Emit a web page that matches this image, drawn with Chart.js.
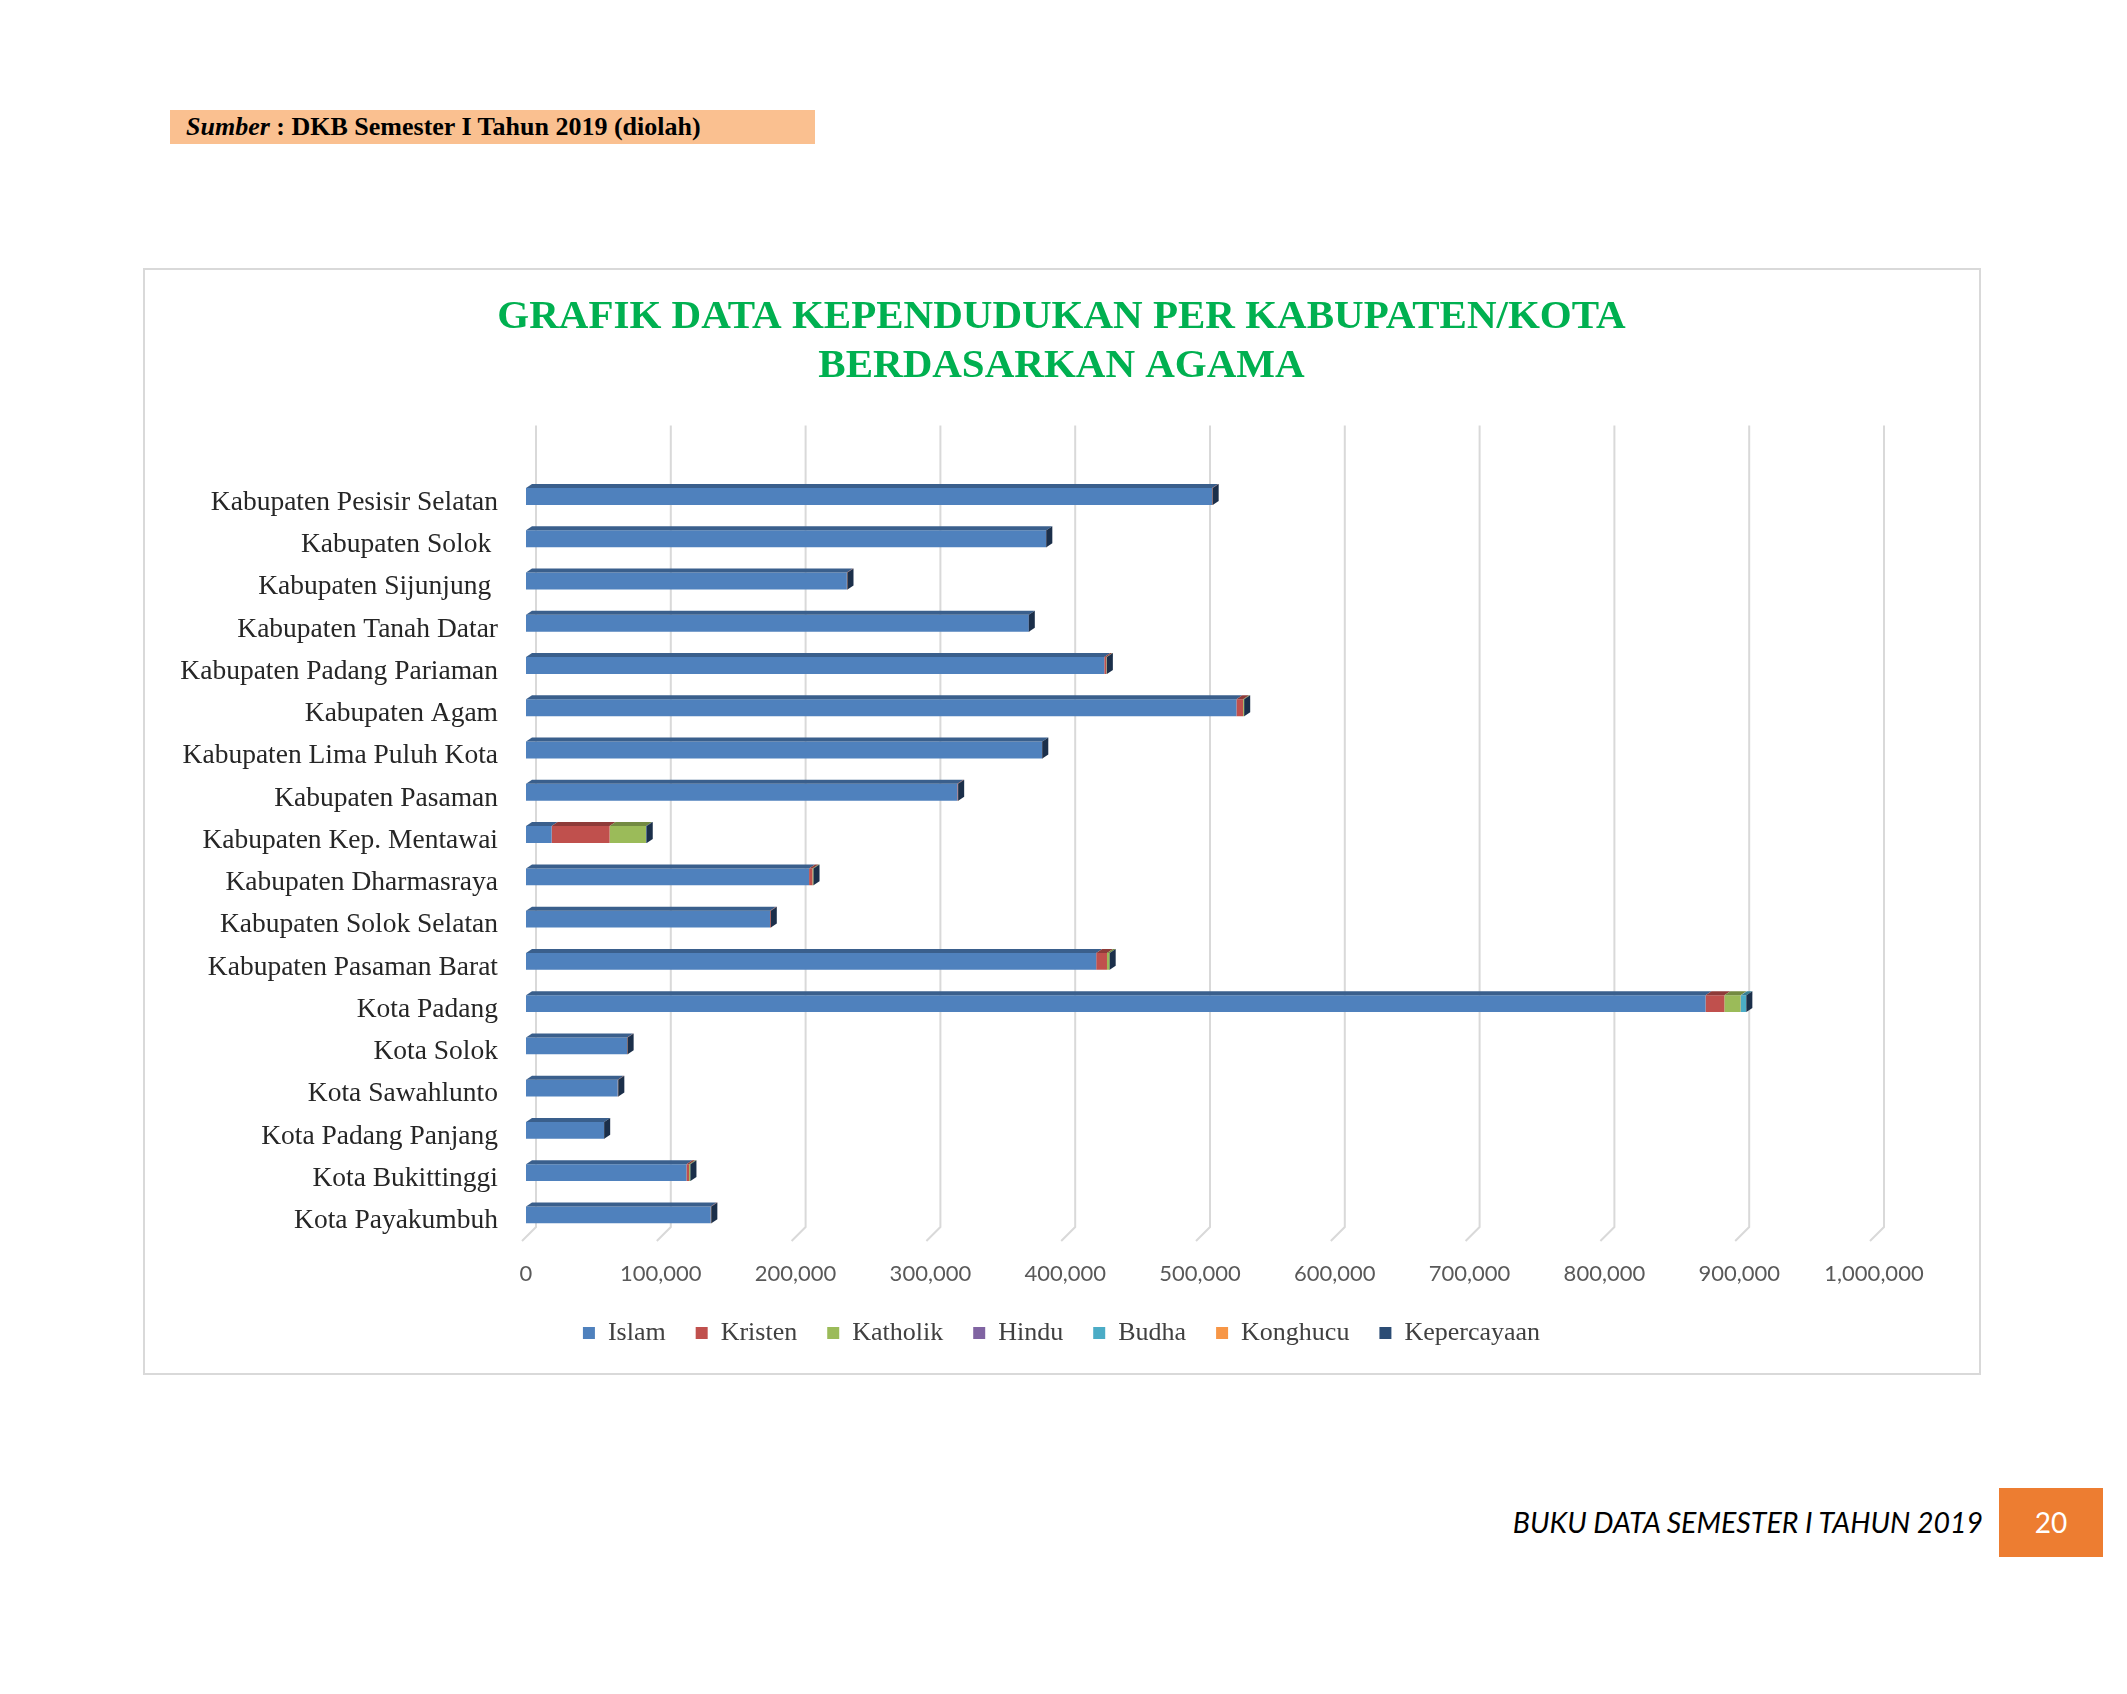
<!DOCTYPE html>
<html>
<head>
<meta charset="utf-8">
<script src="https://cdn.jsdelivr.net/npm/chart.js@4.4.1/dist/chart.umd.min.js"></script>
<style>
  html, body { margin: 0; padding: 0; background: #fff; }
  body { width: 2127px; height: 1694px; position: relative; overflow: hidden; }
  #sumber {
    position: absolute; left: 170px; top: 110px; width: 645px; height: 34px;
    background: #FAC090; box-sizing: border-box; padding-left: 16px;
    font-family: "Liberation Serif", serif; font-weight: bold; font-size: 26px;
    line-height: 34px; color: #000;
  }
  #box {
    position: absolute; left: 143px; top: 268px; width: 1838px; height: 1107px;
    border: 2px solid #D9D9D9; box-sizing: border-box;
  }
  #chart { position: absolute; left: 145px; top: 270px; }
  #footer {
    position: absolute; right: 144px; top: 1505px;
    font-family: Lato, sans-serif; font-style: italic; font-size: 28.5px; color: #000;
  }
  #page {
    position: absolute; left: 1999px; top: 1488px; width: 104px; height: 69px;
    background: #ED7D31; color: #fff; font-family: Lato, sans-serif; font-size: 28px;
    line-height: 69px; text-align: center;
  }
</style>
</head>
<body>
<div id="sumber"><i style="font-weight:bold">Sumber</i> : DKB Semester I Tahun 2019 (diolah)</div>
<div id="box"></div>
<canvas id="chart" width="1833" height="1102"></canvas>
<div id="footer">BUKU DATA SEMESTER I TAHUN 2019</div>
<div id="page">20</div>
<script>
const regions = [
  "Kabupaten Pesisir Selatan", "Kabupaten Solok ", "Kabupaten Sijunjung ",
  "Kabupaten Tanah Datar", "Kabupaten Padang Pariaman", "Kabupaten Agam",
  "Kabupaten Lima Puluh Kota", "Kabupaten Pasaman", "Kabupaten Kep. Mentawai",
  "Kabupaten Dharmasraya", "Kabupaten Solok Selatan", "Kabupaten Pasaman Barat",
  "Kota Padang", "Kota Solok", "Kota Sawahlunto", "Kota Padang Panjang",
  "Kota Bukittinggi", "Kota Payakumbuh"
];
const islam       = [509000, 386000, 238000, 373000, 429000, 527000, 383000, 320000, 19000, 210000, 181000, 423000, 875000, 75000, 68000, 58000, 119000, 137000];
const kristen     = [400, 300, 500, 300, 1500, 5000, 300, 600, 43000, 2500, 600, 8000, 14000, 400, 500, 200, 2000, 500];
const katholik    = [300, 200, 300, 200, 400, 800, 200, 300, 27000, 800, 300, 2000, 12000, 300, 300, 100, 1000, 300];
const hindu       = [10, 10, 20, 10, 20, 30, 10, 10, 30, 100, 20, 50, 300, 10, 10, 10, 20, 10];
const budha       = [50, 40, 50, 30, 60, 200, 50, 40, 40, 100, 30, 200, 4000, 100, 50, 30, 300, 150];
const konghucu    = [5, 5, 5, 5, 5, 10, 5, 5, 5, 10, 5, 10, 100, 10, 5, 5, 20, 10];
const kepercayaan = [10, 10, 10, 10, 10, 10, 10, 10, 500, 10, 10, 10, 50, 10, 10, 10, 10, 10];

const xMax = 1000000;
const xStep = 100000;

function shade(hex, f) {
  const n = parseInt(hex.slice(1), 16);
  const r = Math.round(((n >> 16) & 255) * f);
  const g = Math.round(((n >> 8) & 255) * f);
  const b = Math.round((n & 255) * f);
  return `rgb(${r},${g},${b})`;
}

// fake the excel 3d look: back-wall gridlines, top faces and end caps
const bar3d = {
  id: "bar3d",
  beforeDatasetsDraw(chart) {
    const { ctx, chartArea, scales: { x } } = chart;
    ctx.save();
    ctx.strokeStyle = "#D9D9D9";
    ctx.lineWidth = 2;
    x.ticks.forEach(t => {
      const px = x.getPixelForValue(t.value) + 10;
      ctx.beginPath();
      ctx.moveTo(px, chartArea.top - 50);
      ctx.lineTo(px, chartArea.bottom - 9);
      ctx.lineTo(px - 14, chartArea.bottom + 5);
      ctx.stroke();
    });
    ctx.restore();
  },
  afterDatasetsDraw(chart) {
    const { ctx } = chart;
    const dx = 6, dy = 4;
    const ends = [];
    ctx.save();
    chart.data.datasets.forEach((ds, di) => {
      const meta = chart.getDatasetMeta(di);
      if (meta.hidden) return;
      meta.data.forEach((el, i) => {
        const { x: xe, y, base, height } = el.getProps(["x", "y", "base", "height"], true);
        if (xe - base < 0.5) return;
        const top = y - height / 2;
        ctx.fillStyle = shade(ds.backgroundColor, 0.74);
        ctx.beginPath();
        ctx.moveTo(base, top);
        ctx.lineTo(base + dx, top - dy);
        ctx.lineTo(xe + dx, top - dy);
        ctx.lineTo(xe, top);
        ctx.closePath();
        ctx.fill();
        if (!ends[i] || xe > ends[i].x) ends[i] = { x: xe, top: top, bottom: top + height };
      });
    });
    ctx.fillStyle = "#1B2F4A";
    ends.forEach(e => {
      if (!e) return;
      ctx.beginPath();
      ctx.moveTo(e.x, e.top);
      ctx.lineTo(e.x + dx, e.top - dy);
      ctx.lineTo(e.x + dx, e.bottom - dy);
      ctx.lineTo(e.x, e.bottom);
      ctx.closePath();
      ctx.fill();
    });
    ctx.restore();
  }
};

const series = [
  ["Islam", islam, "#4F81BD"],
  ["Kristen", kristen, "#C0504D"],
  ["Katholik", katholik, "#9BBB59"],
  ["Hindu", hindu, "#8064A2"],
  ["Budha", budha, "#4BACC6"],
  ["Konghucu", konghucu, "#F79646"],
  ["Kepercayaan", kepercayaan, "#2C4D75"]
];

const chart = new Chart("chart", {
  type: "bar",
  data: {
    labels: regions,
    datasets: series.map(([label, data, color]) => ({
      label: label,
      data: data,
      backgroundColor: color,
      borderWidth: 0,
      barPercentage: 0.4,
      categoryPercentage: 1
    }))
  },
  options: {
    responsive: false,
    animation: false,
    indexAxis: "y",
    layout: { padding: { left: 0, right: 0, top: 0, bottom: 16 } },
    scales: {
      x: {
        stacked: true,
        min: 0,
        max: xMax,
        grid: { display: false },
        border: { display: false },
        ticks: {
          stepSize: xStep,
          padding: 17,
          color: "#595959",
          font: { family: "Lato", size: 22 },
          callback: v => v.toLocaleString("en-US")
        },
        afterFit: s => { s.height = 54; }
      },
      y: {
        stacked: true,
        grid: { display: false, drawTicks: false },
        border: { display: false },
        ticks: {
          padding: 28,
          labelOffset: 6,
          color: "#262626",
          font: { family: "Liberation Serif", size: 27.5 }
        },
        afterFit: s => { s.width = 381; }
      },
      // empty spacer on the right so title and legend stay centred on the box
      spacer: {
        type: "linear",
        position: "right",
        display: true,
        grid: { display: false },
        border: { display: false },
        ticks: { display: false },
        afterFit: s => { s.width = 104; }
      }
    },
    plugins: {
      title: {
        display: true,
        text: ["GRAFIK DATA KEPENDUDUKAN PER KABUPATEN/KOTA", "BERDASARKAN AGAMA"],
        color: "#00B050",
        font: { family: "Liberation Serif", size: 41, weight: "bold", lineHeight: 1.2 },
        padding: { top: 23, bottom: 84 }
      },
      legend: {
        position: "bottom",
        labels: {
          boxWidth: 12,
          boxHeight: 12,
          padding: 30,
          color: "#404040",
          font: { family: "Liberation Serif", size: 26 }
        }
      },
      tooltip: { enabled: false }
    }
  },
  plugins: [bar3d]
});
</script>
</body>
</html>
